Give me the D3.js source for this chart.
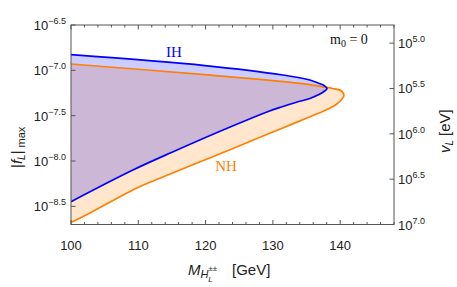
<!DOCTYPE html>
<html>
<head>
<meta charset="utf-8">
<script src="https://cdn.jsdelivr.net/npm/d3@7"></script>
<style>
  body { margin: 0; background: #fff; }
  svg { display: block; }
  .tick-label { font-family: "Liberation Sans", Arial, sans-serif; fill: #222; }
  .serif { font-family: "Liberation Serif", "Times New Roman", serif; }
</style>
</head>
<body>
<svg id="canvas" width="457" height="287"></svg>
<script>
// [mass in GeV, log10 |f_L|max]
const ihUpper = [[100, -6.827], [119.9, -6.947], [131.5, -7.051], [135.5, -7.106], [136.9, -7.145], [137.6, -7.168], [138.05, -7.200]];
const ihLower = [[137.7, -7.228], [137.0, -7.262], [135.5, -7.310], [133.5, -7.352], [131.5, -7.399],
                 [129.5, -7.448], [124.0, -7.614], [115.1, -7.900], [109.2, -8.099], [100, -8.448]];
const nhUpper = [[100, -6.930], [119.9, -7.048], [134.0, -7.143], [137.7, -7.184], [138.9, -7.200], [140.2, -7.228], [140.55, -7.280]];
const nhLower = [[140.16, -7.327], [139.3, -7.382], [137.9, -7.437], [134.97, -7.529],
                 [131.45, -7.636], [129.53, -7.694], [120.62, -7.966], [113.2, -8.19], [109.79, -8.297], [102.82, -8.572], [100, -8.677]];

const xTicks = [100, 110, 120, 130, 140];
const yTicks = [-6.5, -7.0, -7.5, -8.0, -8.5];   // log10 |f_L|
const vTicks = [5.0, 5.5, 6.0, 6.5, 7.0];       // log10 v_L

const pLeft = 71, pRight = 394, pTop = 25, pBottom = 224.5;

const svg = d3.select("#canvas");

const x = d3.scaleLinear().domain([100, 148]).range([pLeft, pRight]);
const y = d3.scaleLog().domain([Math.pow(10, -8.7), Math.pow(10, -6.5)]).range([pBottom, pTop]);
const yR = d3.scaleLog().domain([Math.pow(10, 7.0), Math.pow(10, 4.8)]).range([pBottom, pTop]);

svg.append("clipPath").attr("id", "clip")
    .append("rect").attr("x", pLeft).attr("y", pTop)
    .attr("width", pRight - pLeft).attr("height", pBottom - pTop);

const line = d3.line()
    .x(d => x(d[0]))
    .y(d => y(Math.pow(10, d[1])))
    .curve(d3.curveCatmullRom.alpha(0.5));

const nh = nhUpper.concat(nhLower);
const ih = ihUpper.concat(ihLower);

const plot = svg.append("g").attr("clip-path", "url(#clip)");

plot.append("path").attr("d", line(nh) + "Z")
    .attr("fill", "rgb(255,128,0)").attr("fill-opacity", 0.2);
plot.append("path").attr("d", line(ih) + "Z")
    .attr("fill", "rgb(0,0,255)").attr("fill-opacity", 0.2);
plot.append("path").attr("d", line(nh))
    .attr("fill", "none").attr("stroke", "rgb(255,128,0)").attr("stroke-width", 1.7);
plot.append("path").attr("d", line(ih))
    .attr("fill", "none").attr("stroke", "rgb(0,0,255)").attr("stroke-width", 1.7);

// frame
const frame = svg.append("g").attr("stroke", "#555").attr("stroke-width", 1);
frame.append("rect").attr("x", pLeft).attr("y", pTop)
    .attr("width", pRight - pLeft).attr("height", pBottom - pTop).attr("fill", "none");

// x ticks, bottom and top
const minorX = d3.range(100, 148.01, 2);
minorX.forEach(m => {
    const len = m % 10 === 0 ? 4.5 : 2.5;
    frame.append("line").attr("x1", x(m)).attr("x2", x(m)).attr("y1", pBottom).attr("y2", pBottom - len);
    frame.append("line").attr("x1", x(m)).attr("x2", x(m)).attr("y1", pTop).attr("y2", pTop + len);
});

svg.selectAll(".xlab").data(xTicks).enter().append("text")
    .attr("class", "tick-label")
    .attr("x", d => x(d)).attr("y", 250)
    .attr("text-anchor", "middle").attr("font-size", 13)
    .text(d => d);

// left y ticks
yTicks.forEach(e => {
    const py = y(Math.pow(10, e));
    frame.append("line").attr("x1", pLeft).attr("x2", pLeft + 4.5).attr("y1", py).attr("y2", py);
    const t = svg.append("text").attr("class", "tick-label")
        .attr("x", 66).attr("y", py + 5).attr("text-anchor", "end").attr("font-size", 13);
    t.append("tspan").text("10");
    t.append("tspan").attr("dy", -6).attr("font-size", 9).text("\u2212" + Math.abs(e).toFixed(1));
});

// right y ticks
vTicks.forEach(e => {
    const py = yR(Math.pow(10, e));
    frame.append("line").attr("x1", pRight).attr("x2", pRight - 4.5).attr("y1", py).attr("y2", py);
    const t = svg.append("text").attr("class", "tick-label")
        .attr("x", 398).attr("y", py + 5).attr("text-anchor", "start").attr("font-size", 13);
    t.append("tspan").text("10");
    t.append("tspan").attr("dy", -6).attr("font-size", 9).text(e.toFixed(1));
});

// axis titles
const xt = svg.append("text").attr("class", "tick-label")
    .attr("x", 188).attr("y", 275).attr("font-size", 15);
xt.append("tspan").attr("font-style", "italic").text("M");
xt.append("tspan").attr("font-style", "italic").attr("font-size", 11).attr("dy", 3).text("H");
xt.append("tspan").attr("font-size", 8).attr("dy", -7).text("\u00b1\u00b1");
xt.append("tspan").attr("font-style", "italic").attr("font-size", 8).attr("dx", -9).attr("dy", 11).text("L");
xt.append("tspan").attr("x", 232).attr("dy", -7).text("[GeV]");

const yt = svg.append("text").attr("class", "tick-label")
    .attr("transform", "translate(22,168) rotate(-90)").attr("font-size", 15);
yt.append("tspan").text("|");
yt.append("tspan").attr("font-style", "italic").text("f");
yt.append("tspan").attr("font-style", "italic").attr("font-size", 10).attr("dy", 3).text("L");
yt.append("tspan").attr("dy", -3).text("|");
yt.append("tspan").attr("font-size", 11).attr("dx", 3).attr("dy", 3).text("max");

const vt = svg.append("text").attr("class", "tick-label")
    .attr("transform", "translate(450,153) rotate(-90)").attr("font-size", 15);
vt.append("tspan").attr("font-style", "italic").text("v");
vt.append("tspan").attr("font-style", "italic").attr("font-size", 10).attr("dy", 3).text("L");
vt.append("tspan").attr("dx", 4).attr("dy", -3).text("[eV]");

// annotations
svg.append("text").attr("class", "serif").attr("x", 174).attr("y", 57)
    .attr("text-anchor", "middle").attr("font-size", 15).attr("fill", "rgb(0,0,255)").text("IH");
svg.append("text").attr("class", "serif").attr("x", 226).attr("y", 171)
    .attr("text-anchor", "middle").attr("font-size", 15).attr("fill", "rgb(255,128,0)").text("NH");

const m0 = svg.append("text").attr("class", "serif").attr("x", 330).attr("y", 44).attr("font-size", 14).attr("fill", "#111");
m0.append("tspan").text("m");
m0.append("tspan").attr("font-size", 10).attr("dy", 3).text("0");
m0.append("tspan").attr("dy", -3).text(" = 0");
</script>
</body>
</html>
